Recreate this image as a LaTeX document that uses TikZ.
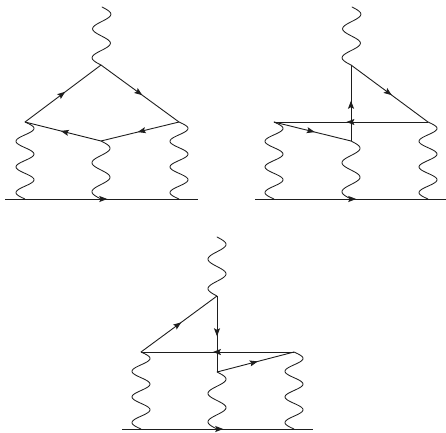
\documentclass[tikz,border=0pt]{standalone}
\usetikzlibrary{arrows.meta,calc,decorations.markings}
\definecolor{ink}{HTML}{1E1E1E}
\tikzset{
  fermion/.style={draw=ink,line width=0.9pt,postaction={decorate},
    decoration={markings,mark=at position #1 with {\arrow{Stealth[length=8pt,width=6pt,inset=1.5pt]}}}},
  fermion/.default=0.53,
  wavy/.style={draw=ink,line width=0.85pt,line cap=round}
}
% wave from one named point to another, with #3 half-periods, first bulge to the east
\newcommand{\wavebetween}[3]{%
  \draw[wavy] let \p1=(#1),\p2=(#2) in
    plot[variable=\t,domain=0:1,samples=90,smooth]
    ({\x1+(\x2-\x1)*\t+9pt*sin(#3*180*\t)},{\y1+(\y2-\y1)*\t});}
\begin{document}
\begin{tikzpicture}[x=1pt,y=-1pt]
\useasboundingbox (0,0) rectangle (446,432);
% diagram A
\coordinate (aS) at (102,7);
\coordinate (aT) at (101,65);
\coordinate (aL) at (25,122);
\coordinate (aR) at (179,122);
\coordinate (aM) at (101,141);
\coordinate (aBL) at (5,199);
\coordinate (aBR) at (198,199);
\coordinate (aB1) at (25,199);
\coordinate (aB2) at (101,199);
\coordinate (aB3) at (179,199);
\wavebetween{aS}{aT}{4}
\wavebetween{aL}{aB1}{6}
\wavebetween{aM}{aB2}{4}
\wavebetween{aR}{aB3}{6}
\draw[fermion] (aL) -- (aT);
\draw[fermion] (aT) -- (aR);
\draw[fermion] (aR) -- (aM);
\draw[fermion] (aM) -- (aL);
\draw[fermion] (aBL) -- (aBR);
% diagram B
\coordinate (bS) at (352,7);
\coordinate (bT) at (351,65);
\coordinate (bL) at (274,122);
\coordinate (bR) at (428,122);
\coordinate (bM) at (351,141);
\coordinate (bBL) at (255,199);
\coordinate (bBR) at (446,199);
\coordinate (bB1) at (274,199);
\coordinate (bB2) at (351,199);
\coordinate (bB3) at (428,199);
\wavebetween{bS}{bT}{4}
\wavebetween{bL}{bB1}{6}
\wavebetween{bM}{bB2}{4}
\wavebetween{bR}{bB3}{6}
\draw[fermion] (bM) -- (bT);
\draw[fermion] (bT) -- (bR);
\draw[fermion] (bR) -- (bL);
\draw[fermion] (bL) -- (bM);
\draw[fermion] (bBL) -- (bBR);
% diagram C
\coordinate (cS) at (217,237);
\coordinate (cT) at (217,296);
\coordinate (cL) at (141,352);
\coordinate (cR) at (294,352);
\coordinate (cM) at (217,372);
\coordinate (cBL) at (122,429);
\coordinate (cBR) at (313,429);
\coordinate (cB1) at (141,429);
\coordinate (cB2) at (217,429);
\coordinate (cB3) at (294,429);
\wavebetween{cS}{cT}{4}
\wavebetween{cL}{cB1}{6}
\wavebetween{cM}{cB2}{4}
\wavebetween{cR}{cB3}{6}
\draw[fermion] (cL) -- (cT);
\draw[fermion] (cT) -- (cM);
\draw[fermion] (cR) -- (cL);
\draw[fermion] (cM) -- (cR);
\draw[fermion] (cBL) -- (cBR);
\end{tikzpicture}
\end{document}
